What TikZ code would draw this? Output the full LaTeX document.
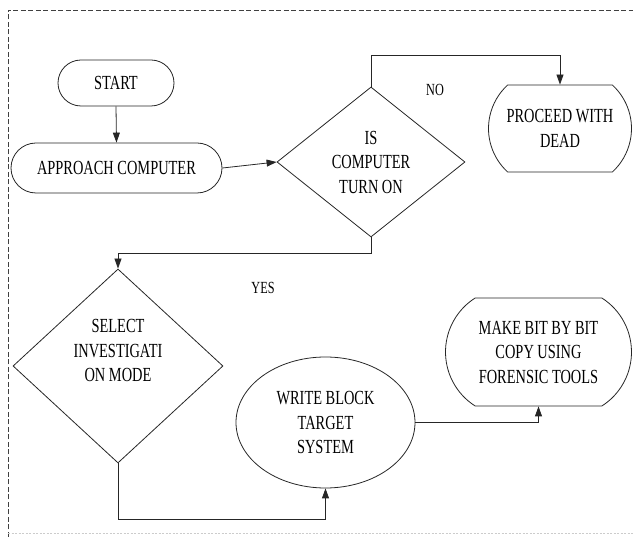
\documentclass[tikz,border=0pt]{standalone}
\usepackage{fontspec}
\setmainfont[FakeStretch=0.72]{Liberation Serif}
\usetikzlibrary{shapes.geometric,shapes.misc,arrows.meta}
\begin{document}
\begin{tikzpicture}[x=1pt,y=-1pt,
  base/.style={draw=black!85,line width=0.8pt,align=center,inner sep=1pt,
    font={\fontsize{20}{24.5}\selectfont}},
  term/.style={base,rounded rectangle},
  decision/.style={base,diamond,aspect=1},
  oval/.style={base,ellipse},
  lbl/.style={font={\fontsize{17}{20}\selectfont}},
  arr/.style={draw=black!85,line width=0.8pt,-{Triangle[length=10pt,width=7pt]}},
  ln/.style={draw=black!85,line width=0.8pt}]
\useasboundingbox (0,0) rectangle (633,537);
% frame
\draw[black!75,line width=0.9pt,dash pattern=on 5pt off 2.5pt] (8,537) -- (8,10) -- (633,10);
\draw[black!20,line width=0.8pt,dash pattern=on 2pt off 1.5pt] (8,533) -- (633,533);
% nodes
\node[term,minimum width=118,minimum height=46] (start) at (116,83) {START};
\node[term,minimum width=213,minimum height=50] (approach) at (116.5,168) {APPROACH COMPUTER};
\node[decision,minimum width=188,minimum height=150] (ison) at (371,162) {IS\\COMPUTER\\TURN ON};
\node[term,rounded rectangle arc length=95,minimum width=145,minimum height=87] (proceed) at (560,128.5) {PROCEED WITH\\DEAD};
\node[decision,minimum width=210,minimum height=194] (select) at (118,366) {SELECT\\INVESTIGATI\\ON MODE\\[6pt]};
\node[oval,minimum width=179,minimum height=131] (write) at (325.5,422.5) {WRITE BLOCK\\TARGET\\SYSTEM};
\node[term,rounded rectangle arc length=115,minimum width=188,minimum height=108] (make) at (538.5,352) {MAKE BIT BY BIT\\COPY USING\\FORENSIC TOOLS};
\node[lbl] (no) at (435,90) {NO};
\node[lbl] (yes) at (263,288) {YES};
% connectors
\draw[arr] (start.south) -- (approach.north);
\draw[arr] (approach.east) -- (ison.west);
\coordinate (c1) at (371,55);
\draw[arr] (ison.north) -- (c1) -| (proceed.north);
\coordinate (c2) at (371,253);
\draw[arr] (ison.south) -- (c2) -| (select.north);
\coordinate (c3) at (118,519);
\draw[arr] (select.south) -- (c3) -| (write.south);
\draw[arr] (write.east) -| (make.south);
\end{tikzpicture}
\end{document}
